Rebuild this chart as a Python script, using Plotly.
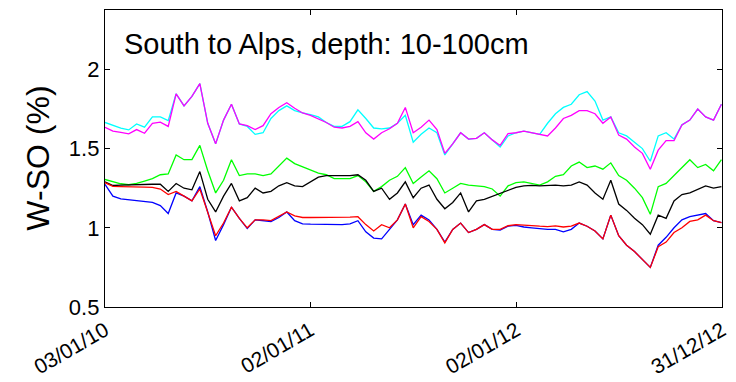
import pandas as pd
import plotly.graph_objects as go

dates = pd.date_range("2010-01-03", periods=79, freq="14D")

cyan = [1.665, 1.645, 1.629, 1.618, 1.656, 1.635, 1.70, 1.70, 1.677, 1.846,
        1.77, 1.83, 1.91, 1.66, 1.53, 1.68, 1.78, 1.656, 1.64, 1.59,
        1.60, 1.69, 1.74, 1.77, 1.74, 1.725, 1.715, 1.70, 1.665, 1.64,
        1.64, 1.67, 1.745, 1.69, 1.63, 1.625, 1.63, 1.66, 1.71, 1.54,
        1.59, 1.63, 1.60, 1.46, 1.53, 1.60, 1.56, 1.565, 1.60, 1.555,
        1.51, 1.58, 1.60, 1.61, 1.60, 1.59, 1.66, 1.72, 1.76, 1.78,
        1.84, 1.86, 1.80, 1.68, 1.70, 1.60, 1.58, 1.54, 1.50, 1.42,
        1.58, 1.60, 1.56, 1.65, 1.68, 1.75, 1.70, 1.68, 1.78]

magenta = [1.635, 1.61, 1.603, 1.593, 1.62, 1.597, 1.66, 1.667, 1.64, 1.846,
           1.77, 1.83, 1.91, 1.66, 1.53, 1.68, 1.78, 1.656, 1.645, 1.62,
           1.645, 1.72, 1.76, 1.79, 1.755, 1.725, 1.71, 1.69, 1.665, 1.635,
           1.63, 1.64, 1.67, 1.60, 1.56, 1.60, 1.625, 1.66, 1.76, 1.60,
           1.635, 1.68, 1.62, 1.47, 1.53, 1.60, 1.56, 1.565, 1.60, 1.555,
           1.52, 1.595, 1.60, 1.61, 1.60, 1.59, 1.58, 1.63, 1.69, 1.71,
           1.74, 1.74, 1.72, 1.66, 1.70, 1.585, 1.56, 1.51, 1.47, 1.37,
           1.49, 1.55, 1.55, 1.65, 1.68, 1.75, 1.70, 1.68, 1.78]

green = [1.305, 1.29, 1.278, 1.272, 1.28, 1.295, 1.31, 1.335, 1.34, 1.46,
         1.43, 1.43, 1.52, 1.36, 1.22, 1.30, 1.43, 1.33, 1.34, 1.34,
         1.33, 1.34, 1.39, 1.44, 1.405, 1.385, 1.37, 1.345, 1.335, 1.31,
         1.31, 1.31, 1.33, 1.29, 1.23, 1.26, 1.30, 1.325, 1.38, 1.28,
         1.32, 1.36, 1.31, 1.22, 1.25, 1.28, 1.27, 1.265, 1.26, 1.245,
         1.20, 1.265, 1.285, 1.29, 1.28, 1.27, 1.29, 1.325, 1.335, 1.39,
         1.415, 1.38, 1.39, 1.37, 1.41, 1.33, 1.30, 1.25, 1.19, 1.085,
         1.26, 1.28, 1.33, 1.38, 1.43, 1.38, 1.40, 1.36, 1.43]

black = [1.29, 1.267, 1.27, 1.272, 1.272, 1.272, 1.275, 1.275, 1.23, 1.28,
         1.25, 1.24, 1.355, 1.18, 1.10, 1.20, 1.28, 1.17, 1.19, 1.25,
         1.22, 1.23, 1.265, 1.285, 1.265, 1.26, 1.29, 1.32, 1.33, 1.33,
         1.33, 1.33, 1.335, 1.30, 1.23, 1.25, 1.18, 1.22, 1.29, 1.19,
         1.25, 1.27, 1.18, 1.12, 1.16, 1.22, 1.10, 1.17, 1.18, 1.20,
         1.22, 1.24, 1.255, 1.265, 1.268, 1.265, 1.267, 1.27, 1.265, 1.27,
         1.29, 1.27, 1.22, 1.18, 1.30, 1.15, 1.11, 1.06, 1.02, 0.96,
         1.08, 1.06, 1.17, 1.21, 1.22, 1.24, 1.265, 1.25, 1.26]

blue = [1.275, 1.20, 1.183, 1.178, 1.17, 1.165, 1.16, 1.14, 1.09, 1.22,
        1.20, 1.17, 1.26, 1.10, 0.92, 1.02, 1.13, 1.06, 0.995, 1.05,
        1.045, 1.04, 1.065, 1.10, 1.045, 1.025, 1.023, 1.023, 1.024, 1.022,
        1.02, 1.025, 1.045, 0.975, 0.935, 0.93, 0.99, 1.05, 1.15, 1.02,
        1.08, 1.05, 0.99, 0.91, 0.99, 1.03, 0.97, 0.99, 1.02, 0.99,
        0.985, 1.01, 1.015, 1.005, 1.0, 0.995, 0.99, 0.99, 0.975, 0.99,
        1.03, 1.01, 0.98, 0.93, 1.08, 0.95, 0.89, 0.85, 0.80, 0.75,
        0.89, 0.94, 1.00, 1.05, 1.07, 1.08, 1.09, 1.045, 1.033]

red = [1.285, 1.262, 1.26, 1.26, 1.26, 1.257, 1.255, 1.245, 1.21, 1.23,
       1.20, 1.17, 1.245, 1.10, 0.95, 1.03, 1.13, 1.06, 1.00, 1.05,
       1.05, 1.045, 1.07, 1.10, 1.075, 1.065, 1.065, 1.065, 1.066, 1.066,
       1.065, 1.068, 1.07, 1.02, 0.98, 1.02, 1.00, 1.05, 1.15, 1.00,
       1.07, 1.04, 0.99, 0.905, 0.99, 1.03, 0.97, 0.99, 1.02, 0.99,
       0.99, 1.013, 1.02, 1.015, 1.014, 1.01, 1.008, 1.012, 1.005, 1.01,
       1.03, 1.01, 0.98, 0.93, 1.08, 0.95, 0.89, 0.85, 0.80, 0.75,
       0.88, 0.91, 0.97, 1.00, 1.04, 1.05, 1.08, 1.045, 1.033]

series = [
    (cyan, "#00FFFF"),
    (magenta, "#FF00FF"),
    (green, "#00FF00"),
    (black, "#000000"),
    (blue, "#0000FF"),
    (red, "#FF0000"),
]

xtick_vals = ["2010-01-03", "2011-01-02", "2012-01-02", "2012-12-31"]
xtick_text = ["03/01/10", "02/01/11", "02/01/12", "31/12/12"]
ytick_vals = [0.5, 1, 1.5, 2]
ytick_text = ["0.5", "1", "1.5", "2"]

FONT = "Liberation Sans, Arial, sans-serif"

fig = go.Figure()
for vals, col in series:
    fig.add_trace(go.Scatter(x=dates, y=vals, mode="lines",
                             line=dict(color=col, width=1.3),
                             showlegend=False, hoverinfo="skip"))

axis_common = dict(showline=True, linecolor="black", linewidth=1.3,
                   mirror="ticks", ticks="inside", ticklen=5,
                   tickcolor="black", tickwidth=1, showgrid=False,
                   zeroline=False, automargin=False)

# the page body adds an 8px offset; margins compensate for it
fig.update_layout(
    width=736, height=382,
    margin=dict(l=97, r=22, t=2, b=83, autoexpand=False),
    paper_bgcolor="white", plot_bgcolor="white",
    xaxis=dict(range=["2010-01-03", "2012-12-31"], tickmode="array",
               tickvals=xtick_vals, ticktext=xtick_text, tickangle=-30,
               ticklabelstandoff=2,
               tickfont=dict(family=FONT, size=21, color="black"),
               **axis_common),
    yaxis=dict(range=[0.5, 2.375], tickmode="array",
               tickvals=ytick_vals, ticktext=ytick_text,
               tickfont=dict(family=FONT, size=22, color="black"),
               **axis_common),
    annotations=[
        dict(text="South to Alps, depth: 10-100cm", xref="paper", yref="paper",
             x=0.027, y=0.885, xanchor="left", yanchor="middle", showarrow=False,
             font=dict(family=FONT, size=29, color="black")),
        dict(text="W-SO (%)", xref="paper", yref="paper", textangle=-90,
             x=-0.110, y=0.50, xanchor="center", yanchor="middle",
             showarrow=False, font=dict(family=FONT, size=32, color="black")),
    ],
)

fig.write_html("out.html")
